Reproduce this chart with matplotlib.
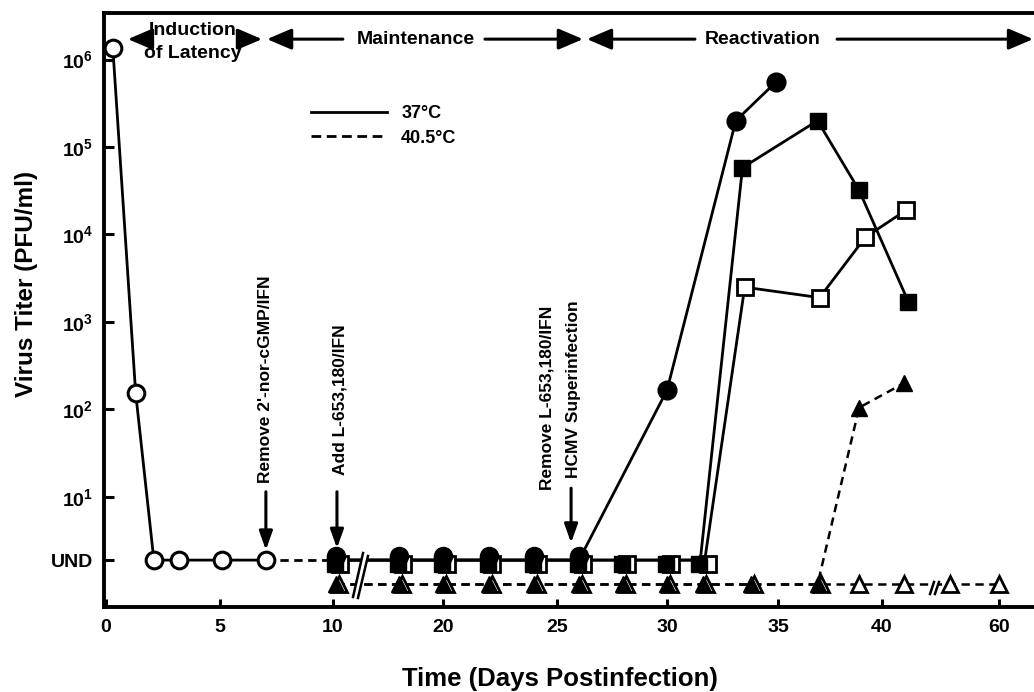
import numpy as np
import matplotlib
matplotlib.use("Agg")
import matplotlib.pyplot as plt
from matplotlib.transforms import offset_copy
from matplotlib.lines import Line2D
from matplotlib.patches import Polygon
from matplotlib.ticker import FixedLocator, NullLocator

plt.rcParams['font.family'] = ['Liberation Sans', 'DejaVu Sans']
plt.rcParams['font.weight'] = 'bold'
plt.rcParams['mathtext.fontset'] = 'custom'
plt.rcParams['mathtext.rm'] = 'Liberation Sans:bold'
plt.rcParams['mathtext.it'] = 'Liberation Sans:bold'
plt.rcParams['mathtext.bf'] = 'Liberation Sans:bold'
plt.rcParams['lines.scale_dashes'] = False

# ---------------- data ----------------
UND = 1.9      # plotted level of "undetectable" titer (37 C)
BASE = 1.0     # plotted level of "undetectable" titer (40.5 C)

# open circles: induction of latency (37 C)
oc_days = [0.3, 1.3, 2.1, 3.2, 5.1, 7.05]
oc_titer = [1.35e6, 155, UND, UND, UND, UND]
oc_link_days = [7.05, 10.3]
oc_link_titer = [UND, UND]

# filled circles (37 C)
fc_days = [10.3, 16, 20, 22, 24, 26, 30, 33.1, 34.9]
fc_titer = [UND, UND, UND, UND, UND, UND, 166, 2.0e5, 5.5e5]
fc_n_und = 6

# filled squares (37 C)
fs_days = [10.3, 16, 20, 22, 24, 26, 28, 30, 31.5, 33.4, 36.9, 38.9, 41.2]
fs_titer = [UND, UND, UND, UND, UND, UND, UND, UND, UND, 5.8e4, 2.0e5, 3.2e4, 1.7e3]
fs_n_und = 9

# open squares (37 C)
os_days = [10.3, 16, 20, 22, 24, 26, 28, 30, 31.7, 33.5, 37.0, 39.2, 41.1]
os_titer = [UND, UND, UND, UND, UND, UND, UND, UND, UND, 2.5e3, 1.9e3, 9.3e3, 1.9e4]
os_n_und = 9

# filled triangles (40.5 C)
ft_days = [10.3, 16, 20, 22, 24, 26, 28, 30, 31.6, 33.8, 36.9, 38.9, 41.0]
ft_titer = [BASE, BASE, BASE, BASE, BASE, BASE, BASE, BASE, BASE, BASE, BASE, 105, 200]
ft_n_und = 11

# open triangles (40.5 C)
ot_days = [10.3, 16, 20, 22, 24, 26, 28, 30, 31.6, 33.8, 36.9, 38.9, 41.0, 48, 60]
ot_titer = [BASE, BASE, BASE, BASE, BASE, BASE, BASE, BASE, BASE, BASE, BASE, BASE, BASE, BASE, BASE]

x_ticks = [0, 5, 10, 20, 25, 30, 35, 40, 60]
x_ticklabels = ['0', '5', '10', '20', '25', '30', '35', '40', '60']
y_ticks = [UND, 1e1, 1e2, 1e3, 1e4, 1e5, 1e6]
y_ticklabels = ['UND', r'$10^1$', r'$10^2$', r'$10^3$', r'$10^4$', r'$10^5$', r'$10^6$']

# broken x axis: piecewise-linear scale (day -> position)
XN_D = np.array([0, 5, 10, 20, 25, 30, 35, 40, 42, 60], float)
XN_P = np.array([106, 220, 333, 443, 557, 667, 778, 882, 926, 999], float)


def _pw(x, xs, ys):
    x = np.asarray(x, float)
    y = np.interp(x, xs, ys)
    y = np.where(x < xs[0], ys[0] + (x - xs[0]) * (ys[1] - ys[0]) / (xs[1] - xs[0]), y)
    y = np.where(x > xs[-1], ys[-1] + (x - xs[-1]) * (ys[-1] - ys[-2]) / (xs[-1] - xs[-2]), y)
    return y


def fwd(x):
    return _pw(x, XN_D, XN_P)


def inv(p):
    return _pw(p, XN_P, XN_D)


# ---------------- figure ----------------
W, H = 1034, 692
fig = plt.figure(figsize=(W / 100, H / 100), dpi=100)
ax = fig.add_axes([104 / W, (H - 607) / H, (W - 104) / W, (607 - 13) / H])
ax.set_xscale('function', functions=(fwd, inv))
ax.set_yscale('log')
ax.set_xlim(float(inv(104)), float(inv(1034)))
ax.set_ylim(0.553, 3.4e6)

LW = 2.0
K = 'black'
DASH = (6, 4)


def off(dx_px, dy_px):
    return offset_copy(ax.transData, fig=fig, x=dx_px * 0.72, y=dy_px * 0.72, units='points')


# open squares (under filled squares, shifted right at UND)
ax.plot(os_days, os_titer, '-', color=K, lw=LW, zorder=2)
ax.plot(os_days[:os_n_und], os_titer[:os_n_und], 's', ms=11, mfc='white', mec=K, mew=2.0,
        ls='none', transform=off(3.5, -4), zorder=3)
ax.plot(os_days[os_n_und:], os_titer[os_n_und:], 's', ms=11, mfc='white', mec=K, mew=2.0,
        ls='none', zorder=3)

# filled squares
ax.plot(fs_days, fs_titer, '-', color=K, lw=LW, zorder=2)
ax.plot(fs_days[:fs_n_und], fs_titer[:fs_n_und], 's', ms=12, color=K, ls='none',
        transform=off(-1, -4), zorder=3.5)
ax.plot(fs_days[fs_n_und:], fs_titer[fs_n_und:], 's', ms=12, color=K, ls='none', zorder=3.5)

# filled circles
ax.plot(fc_days, fc_titer, '-', color=K, lw=LW, zorder=2)
ax.plot(fc_days[:fc_n_und], fc_titer[:fc_n_und], 'o', ms=13, color=K, ls='none',
        transform=off(0, 4), zorder=4)
ax.plot(fc_days[fc_n_und:], fc_titer[fc_n_und:], 'o', ms=13.5, color=K, ls='none', zorder=4)

# open triangles (40.5 C)
ax.plot(ot_days, ot_titer, color=K, lw=1.8, dashes=DASH, zorder=2)
ax.plot(ot_days[:ft_n_und], ot_titer[:ft_n_und], '^', ms=11, mfc='white', mec=K, mew=2.0,
        ls='none', transform=off(3, 0), zorder=3)
ax.plot(ot_days[ft_n_und:], ot_titer[ft_n_und:], '^', ms=11, mfc='white', mec=K, mew=2.0,
        ls='none', zorder=3)

# filled triangles (40.5 C)
ax.plot(ft_days, ft_titer, color=K, lw=1.8, dashes=DASH, zorder=2)
ax.plot(ft_days, ft_titer, '^', ms=11.5, color=K, ls='none', zorder=3.5)

# open circles (induction)
ax.plot(oc_link_days, oc_link_titer, color=K, lw=LW, dashes=DASH, zorder=2)
ax.plot(oc_days, oc_titer, 'o-', color=K, lw=LW, ms=12, mfc='white', mec=K, mew=2.2, zorder=5)

# ---------------- axes styling ----------------
for s in ['left', 'bottom', 'top']:
    ax.spines[s].set_linewidth(2.8)
ax.spines['right'].set_visible(False)

ax.xaxis.set_major_locator(FixedLocator(x_ticks))
ax.xaxis.set_minor_locator(NullLocator())
ax.set_xticklabels(x_ticklabels)
ax.yaxis.set_major_locator(FixedLocator(y_ticks))
ax.yaxis.set_minor_locator(NullLocator())
ax.set_yticklabels(y_ticklabels)
ax.tick_params(axis='x', direction='in', length=6, width=2.2, labelsize=14, pad=9)
ax.tick_params(axis='y', direction='in', length=7, width=2.2, labelsize=14, pad=8)
for t in ax.get_xticklabels() + ax.get_yticklabels():
    t.set_fontweight('bold')

fig.text(27 / W, 1 - 284 / H, 'Virus Titer (PFU/ml)', rotation=90, ha='center', va='center',
         fontsize=17.5, fontweight='bold')
fig.text(560 / W, 1 - 679 / H, 'Time (Days Postinfection)', ha='center', va='center',
         fontsize=18.5, fontweight='bold')

# legend
h1 = Line2D([], [], color=K, lw=LW)
h2 = Line2D([], [], color=K, lw=LW, dashes=(7, 4))
ax.legend([h1, h2], ['37°C', '40.5°C'], loc='upper left', bbox_to_anchor=(0.205, 0.872),
          frameon=False, handlelength=4.2, handletextpad=0.8, labelspacing=0.4,
          prop={'weight': 'bold', 'size': 13})

# ---------------- phase arrows at the top ----------------
AY = 0.956
ap = dict(arrowstyle='-|>,head_length=0.75,head_width=0.32', lw=2.2, color=K,
          shrinkA=0, shrinkB=0, mutation_scale=20)
C = ('data', 'axes fraction')


def harrow(x_from, x_to, to_coords=C):
    ax.annotate('', xy=(x_to, AY), xytext=(x_from, AY), xycoords=to_coords, textcoords=C,
                arrowprops=ap, annotation_clip=False)


harrow(1.80, 0.96)
harrow(5.80, 6.86)
harrow(10.9, 7.08)
harrow(21.84, 26.18)
harrow(31.26, 26.36)
harrow(37.84, 0.999, to_coords=('axes fraction', 'axes fraction'))

xt = ax.get_xaxis_transform()
ax.text(3.82, 0.970, 'Induction', transform=xt, ha='center', va='center',
        fontsize=14, fontweight='bold')
ax.text(3.82, 0.932, 'of Latency', transform=xt, ha='center', va='center',
        fontsize=14, fontweight='bold')
ax.text(17.55, AY, 'Maintenance', transform=xt, ha='center', va='center',
        fontsize=14, fontweight='bold')
ax.text(34.32, AY, 'Reactivation', transform=xt, ha='center', va='center',
        fontsize=14, fontweight='bold')

# ---------------- treatment annotations ----------------
vap = dict(arrowstyle='-|>,head_length=0.7,head_width=0.25', lw=2.2, color=K,
           shrinkA=0, shrinkB=0, mutation_scale=16)


def varrow(x, y_from, y_to):
    ax.annotate('', xy=(x, y_to), xytext=(x, y_from), xycoords=C, textcoords=C,
                arrowprops=vap, annotation_clip=False)


def vtext(x, y, s):
    ax.text(x, y, s, transform=xt, rotation=90, ha='center',
            va='bottom', fontsize=12.5, fontweight='bold')


vtext(7.01, 0.209, "Remove 2'-nor-cGMP/IFN")
varrow(7.03, 0.194, 0.096)
vtext(10.6, 0.222, 'Add L-653,180/IFN')
varrow(10.36, 0.194, 0.099)
vtext(24.56, 0.197, 'Remove L-653,180/IFN')
vtext(25.73, 0.217, 'HCMV Superinfection')
varrow(25.64, 0.200, 0.108)

# ---------------- axis-break marks ----------------
def brk(xa0, ya0, xa1, ya1, xb0, yb0, xb1, yb1):
    ax.add_patch(Polygon([(xa0, ya0), (xa1, ya1), (xb1, yb1), (xb0, yb0)], closed=True,
                         facecolor='white', edgecolor='none', transform=xt, zorder=6))
    ax.add_line(Line2D([xa0, xa1], [ya0, ya1], color=K, lw=1.8, transform=xt, zorder=7))
    ax.add_line(Line2D([xb0, xb1], [yb0, yb1], color=K, lw=1.8, transform=xt, zorder=7))


brk(11.82, 0.0168, 12.73, 0.0909, 12.27, 0.0152, 13.18, 0.0859)
brk(43.0, 0.0219, 43.97, 0.0421, 44.2, 0.0219, 45.2, 0.0421)

fig.savefig('out.png', dpi=100)
